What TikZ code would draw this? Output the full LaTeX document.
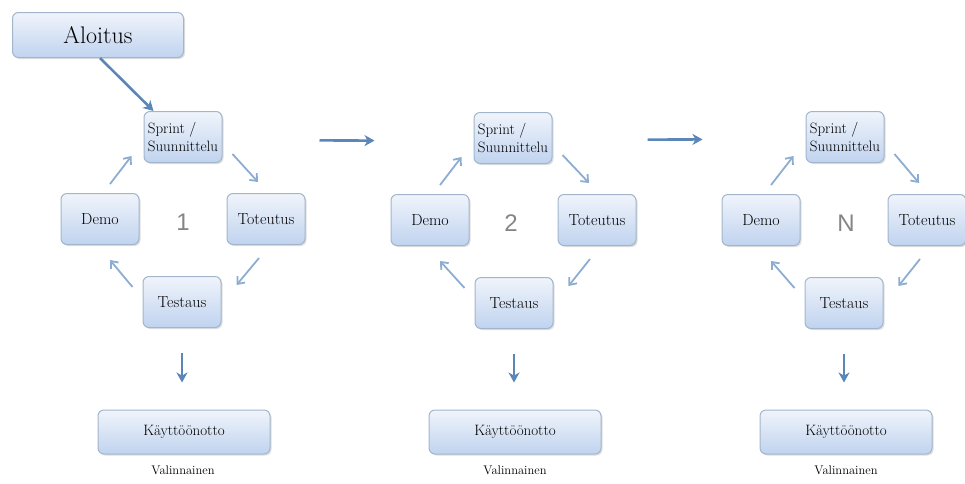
\documentclass[tikz,border=0pt]{standalone}
\usepackage{fontspec}
\newfontfamily\numfont{Liberation Sans}
\usetikzlibrary{arrows.meta,shadows}
\definecolor{boxtop}{HTML}{F0F4FB}
\definecolor{boxbot}{HTML}{C0D3EF}
\definecolor{boxline}{HTML}{A3B5CB}
\definecolor{mainblue}{HTML}{5A86B9}
\definecolor{cycblue}{HTML}{8CADD1}
\definecolor{numgrey}{HTML}{858585}
\tikzset{
  phase/.style={draw=boxline, line width=1pt, rounded corners=6pt,
    top color=boxtop, bottom color=boxbot, minimum width=78pt,
    minimum height=51pt, inner sep=1pt, align=center,
    font=\fontsize{16}{19}\selectfont,
    drop shadow={opacity=0.25, shadow xshift=1.5pt, shadow yshift=-1.5pt}},
  plan/.style={phase, align=left, font=\fontsize{15}{18.5}\selectfont},
  wide/.style={phase, minimum width=172pt, minimum height=44pt,
    font=\fontsize{15}{18}\selectfont},
  flow/.style={draw=mainblue, line width=2.6pt,
    -{Stealth[length=10pt,width=11pt,inset=3pt]}},
  cyc/.style={draw=cycblue, line width=1.8pt,
    -{Straight Barb[length=6pt,width=10pt]}},
  num/.style={font=\numfont\fontsize{24}{24}\selectfont, text=numgrey},
  note/.style={font=\fontsize{12.5}{14}\selectfont}
}
\begin{document}
\begin{tikzpicture}[x=1pt,y=-1pt]
  \useasboundingbox (0,0) rectangle (965,483);
  \node[phase, minimum width=171pt, minimum height=45pt,
    font=\fontsize{24}{28}\selectfont] (start) at (98,35) {Aloitus};
  % kierros 1
  \node[plan] (s1) at (183,137) {Sprint /\\Suunnittelu};
  \node[phase] (d1) at (100,219) {Demo};
  \node[phase] (t1) at (266,219) {Toteutus};
  \node[phase] (e1) at (182,302) {Testaus};
  \node[num] (n1) at (183,222) {1};
  \node[wide] (k1) at (184,432) {Käyttöönotto};
  \node[note] (v1) at (183,470) {Valinnainen};
  % kierros 2
  \node[plan] (s2) at (513,138) {Sprint /\\Suunnittelu};
  \node[phase] (d2) at (430,220) {Demo};
  \node[phase] (t2) at (597,220) {Toteutus};
  \node[phase] (e2) at (514,303) {Testaus};
  \node[num] (n2) at (511,223) {2};
  \node[wide] (k2) at (515,432) {Käyttöönotto};
  \node[note] (v2) at (515,470) {Valinnainen};
  % kierros N
  \node[plan] (s3) at (845,137) {Sprint /\\Suunnittelu};
  \node[phase] (d3) at (761,220) {Demo};
  \node[phase] (t3) at (927,220) {Toteutus};
  \node[phase] (e3) at (844,303) {Testaus};
  \node[num] (n3) at (846,223) {N};
  \node[wide] (k3) at (846,432) {Käyttöönotto};
  \node[note] (v3) at (846,470) {Valinnainen};
  \begin{scope}[flow]
    \draw ([shift={(2,0)}]start.south) -- ([shift={(10,0)}]s1.north west);
    \draw[shorten <=97pt, shorten >=99pt]
      ([shift={(0,3)}]s1.east) -- ([shift={(0,3)}]s2.west);
    \draw[shorten <=95pt, shorten >=103pt]
      ([shift={(0,2)}]s2.east) -- ([shift={(0,2)}]s3.west);
    \draw[shorten <=25pt, shorten >=27pt] (e1.south) -- (e1.south |- k1.north);
    \draw[shorten <=25pt, shorten >=27pt] (e2.south) -- (e2.south |- k2.north);
    \draw[shorten <=25pt, shorten >=27pt] (e3.south) -- (e3.south |- k3.north);
  \end{scope}
  \begin{scope}[cyc]
    \draw ([shift={(10,-9)}]d1.north) -- ([shift={(-12,19)}]s1.west);
    \draw ([shift={(10,17)}]s1.east) -- ([shift={(-8,-11)}]t1.north);
    \draw ([shift={(-7,13)}]t1.south) -- ([shift={(15,-17)}]e1.east);
    \draw ([shift={(-10,-15)}]e1.west) -- ([shift={(10,15)}]d1.south);
    \draw ([shift={(10,-9)}]d2.north) -- ([shift={(-12,19)}]s2.west);
    \draw ([shift={(10,17)}]s2.east) -- ([shift={(-8,-11)}]t2.north);
    \draw ([shift={(-7,13)}]t2.south) -- ([shift={(15,-17)}]e2.east);
    \draw ([shift={(-10,-15)}]e2.west) -- ([shift={(10,15)}]d2.south);
    \draw ([shift={(10,-9)}]d3.north) -- ([shift={(-12,19)}]s3.west);
    \draw ([shift={(10,17)}]s3.east) -- ([shift={(-8,-11)}]t3.north);
    \draw ([shift={(-7,13)}]t3.south) -- ([shift={(15,-17)}]e3.east);
    \draw ([shift={(-10,-15)}]e3.west) -- ([shift={(10,15)}]d3.south);
  \end{scope}
\end{tikzpicture}
\end{document}
